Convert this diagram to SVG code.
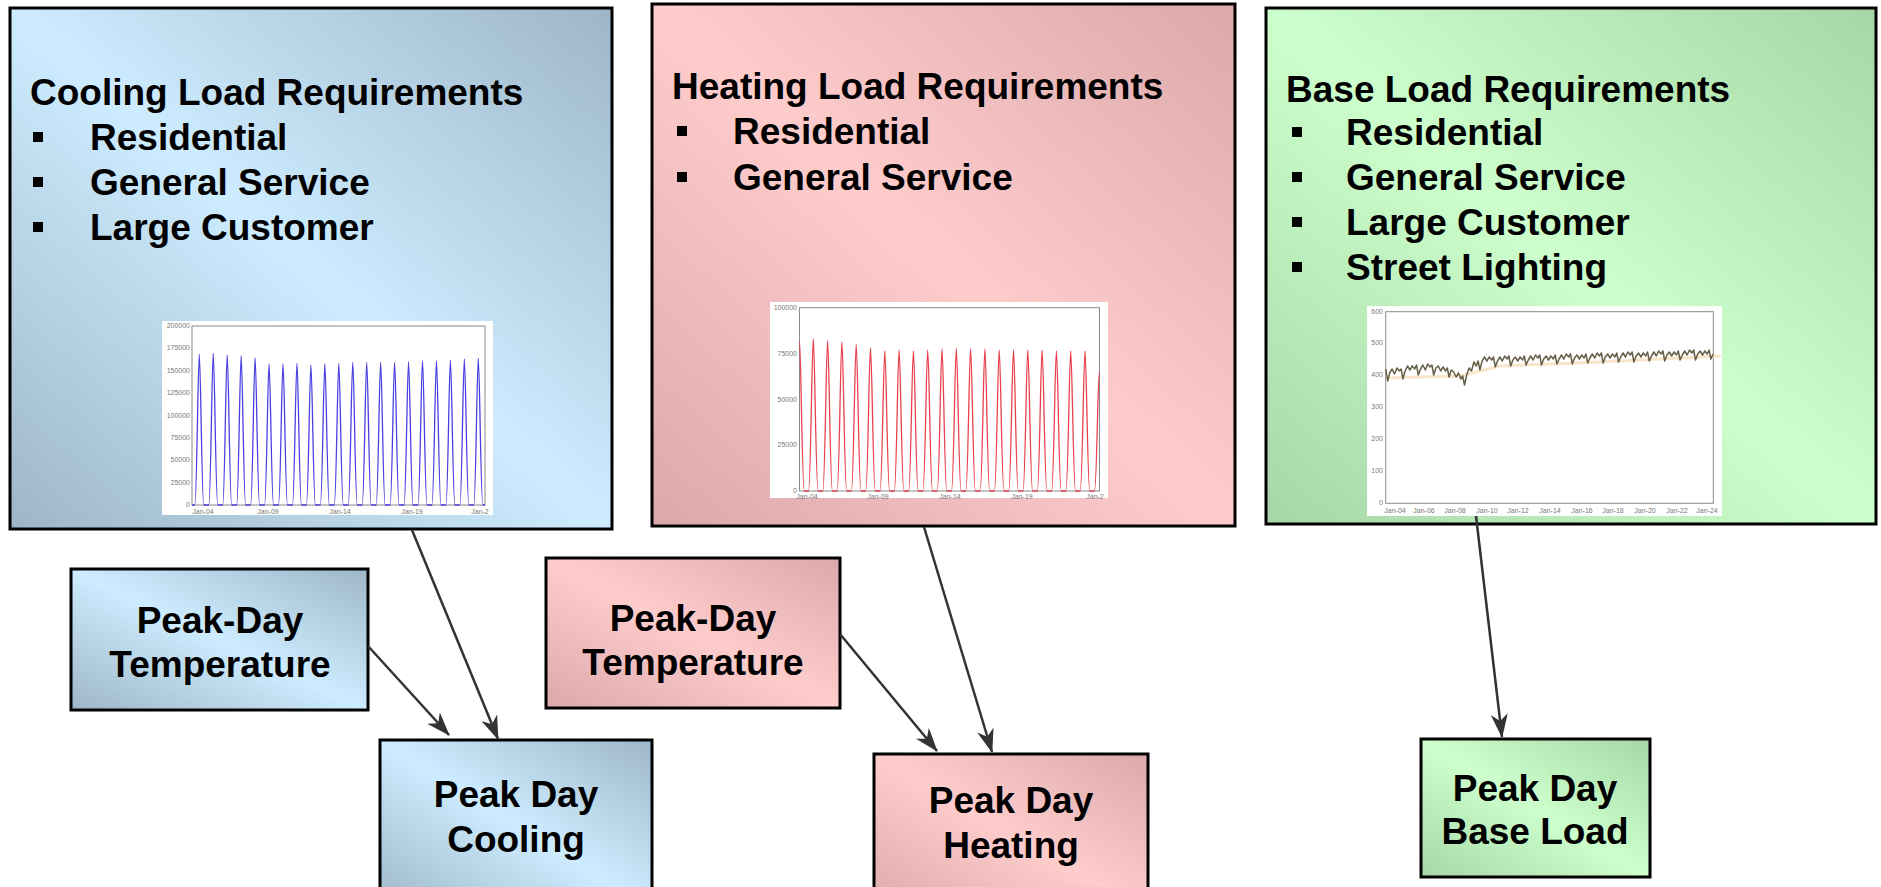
<svg xmlns="http://www.w3.org/2000/svg" width="1881" height="887" viewBox="0 0 1881 887">
<defs>
<linearGradient id="gBlue" x1="1" y1="0" x2="0" y2="1"><stop offset="0" stop-color="#9db6c7"/><stop offset="0.5" stop-color="#cdecff"/><stop offset="1" stop-color="#9db6c7"/></linearGradient>
<linearGradient id="gRed" x1="1" y1="0" x2="0" y2="1"><stop offset="0" stop-color="#dba9ab"/><stop offset="0.5" stop-color="#ffcccc"/><stop offset="1" stop-color="#dba9ab"/></linearGradient>
<linearGradient id="gGreen" x1="1" y1="0" x2="0" y2="1"><stop offset="0" stop-color="#a6d6a6"/><stop offset="0.5" stop-color="#ccffcc"/><stop offset="1" stop-color="#a6d6a6"/></linearGradient>
<marker id="arr" viewBox="0 0 24 17" refX="23" refY="8.5" markerWidth="24" markerHeight="17" markerUnits="userSpaceOnUse" orient="auto"><path d="M0,0 L24,8.5 L0,17 L7,8.5 Z" fill="#333"/></marker>
<style>
.box{stroke:#000;stroke-width:3}
.t{font-family:"Liberation Sans",Arial,sans-serif;font-weight:bold;font-size:37px;fill:#000}
.c{text-anchor:middle}
.b{fill:#000}
.chart{fill:#fff}
.frame{fill:none;stroke:#8a8a8a;stroke-width:1}
.tk{font-family:"Liberation Sans",Arial,sans-serif;font-size:7px;fill:#777}
.ya{text-anchor:end}
.xa{text-anchor:middle}
.conn{stroke:#333;stroke-width:2.5;fill:none;marker-end:url(#arr)}
</style>
</defs>
<rect width="1881" height="887" fill="#fff"/>

<g id="cooling-requirements">
<rect class="box" x="10" y="8" width="602" height="521" fill="url(#gBlue)"/>
<text class="t" x="30" y="105">Cooling Load Requirements</text>
<rect class="b" x="33" y="132" width="10" height="10"/><text class="t" x="90" y="150">Residential</text>
<rect class="b" x="33" y="177" width="10" height="10"/><text class="t" x="90" y="195">General Service</text>
<rect class="b" x="33" y="222" width="10" height="10"/><text class="t" x="90" y="240">Large Customer</text>
<rect class="chart" x="162" y="321" width="331" height="194"/>
<rect class="frame" x="192" y="326" width="293" height="179"/>
<g class="tk ya">
<text x="190" y="328">200000</text><text x="190" y="350">175000</text><text x="190" y="373">150000</text><text x="190" y="395">125000</text><text x="190" y="418">100000</text><text x="190" y="440">75000</text><text x="190" y="462">50000</text><text x="190" y="485">25000</text><text x="190" y="507">0</text>
</g>
<g class="tk xa">
<text x="203" y="514">Jan-04</text><text x="268" y="514">Jan-09</text><text x="340" y="514">Jan-14</text><text x="412" y="514">Jan-19</text><text x="480" y="514">Jan-2</text>
</g>
<path fill="none" stroke="#4a3fe0" stroke-width="1.3" d="M192,505 h2.8
c2,0 3.2,-150.7 4.5,-150.7 c1.3,0 2.5,150.7 4.5,150.7 h4.95
c2,0 3.2,-151.7 4.5,-151.7 c1.3,0 2.5,151.7 4.5,151.7 h4.95
c2,0 3.2,-150 4.5,-150 c1.3,0 2.5,150 4.5,150 h4.95
c2,0 3.2,-149.3 4.5,-149.3 c1.3,0 2.5,149.3 4.5,149.3 h4.95
c2,0 3.2,-147.3 4.5,-147.3 c1.3,0 2.5,147.3 4.5,147.3 h4.95
c2,0 3.2,-141 4.5,-141 c1.3,0 2.5,141 4.5,141 h4.95
c2,0 3.2,-141 4.5,-141 c1.3,0 2.5,141 4.5,141 h4.95
c2,0 3.2,-141.7 4.5,-141.7 c1.3,0 2.5,141.7 4.5,141.7 h4.95
c2,0 3.2,-140 4.5,-140 c1.3,0 2.5,140 4.5,140 h4.95
c2,0 3.2,-141 4.5,-141 c1.3,0 2.5,141 4.5,141 h4.95
c2,0 3.2,-141.7 4.5,-141.7 c1.3,0 2.5,141.7 4.5,141.7 h4.95
c2,0 3.2,-142.7 4.5,-142.7 c1.3,0 2.5,142.7 4.5,142.7 h4.95
c2,0 3.2,-142.7 4.5,-142.7 c1.3,0 2.5,142.7 4.5,142.7 h4.95
c2,0 3.2,-142.7 4.5,-142.7 c1.3,0 2.5,142.7 4.5,142.7 h4.95
c2,0 3.2,-142.7 4.5,-142.7 c1.3,0 2.5,142.7 4.5,142.7 h4.95
c2,0 3.2,-143.3 4.5,-143.3 c1.3,0 2.5,143.3 4.5,143.3 h4.95
c2,0 3.2,-144.3 4.5,-144.3 c1.3,0 2.5,144.3 4.5,144.3 h4.95
c2,0 3.2,-144.3 4.5,-144.3 c1.3,0 2.5,144.3 4.5,144.3 h4.95
c2,0 3.2,-145 4.5,-145 c1.3,0 2.5,145 4.5,145 h4.95
c2,0 3.2,-146 4.5,-146 c1.3,0 2.5,146 4.5,146 h4.95
c2,0 3.2,-146.7 4.5,-146.7 c1.3,0 2.5,146.7 4.5,146.7 h2.2"/>
</g>

<g id="heating-requirements">
<rect class="box" x="652" y="4" width="583" height="522" fill="url(#gRed)"/>
<text class="t" x="672" y="99">Heating Load Requirements</text>
<rect class="b" x="677" y="126" width="10" height="10"/><text class="t" x="733" y="144">Residential</text>
<rect class="b" x="677" y="172" width="10" height="10"/><text class="t" x="733" y="190">General Service</text>
<rect class="chart" x="770" y="302" width="338" height="196"/>
<rect class="frame" x="799.5" y="307.7" width="300" height="183.3"/>
<g class="tk ya">
<text x="797" y="310">100000</text><text x="797" y="356">75000</text><text x="797" y="402">50000</text><text x="797" y="447">25000</text><text x="797" y="493">0</text>
</g>
<g class="tk xa">
<text x="807" y="499">Jan-04</text><text x="878" y="499">Jan-09</text><text x="950" y="499">Jan-14</text><text x="1022" y="499">Jan-19</text><text x="1095" y="499">Jan-2</text>
</g>
<path fill="none" stroke="#e8404c" stroke-width="1.3" d="M799.5,341 c1.4,0 2.6,150 4.8,150 h4.2
c2.2,0 3.4,-152 4.8,-152 c1.4,0 2.6,152 4.8,152 h4.7
c2.2,0 3.4,-150.3 4.8,-150.3 c1.4,0 2.6,150.3 4.8,150.3 h4.7
c2.2,0 3.4,-149.3 4.8,-149.3 c1.4,0 2.6,149.3 4.8,149.3 h4.7
c2.2,0 3.4,-146.7 4.8,-146.7 c1.4,0 2.6,146.7 4.8,146.7 h4.7
c2.2,0 3.4,-143.3 4.8,-143.3 c1.4,0 2.6,143.3 4.8,143.3 h4.7
c2.2,0 3.4,-140 4.8,-140 c1.4,0 2.6,140 4.8,140 h4.7
c2.2,0 3.4,-141 4.8,-141 c1.4,0 2.6,141 4.8,141 h4.7
c2.2,0 3.4,-140 4.8,-140 c1.4,0 2.6,140 4.8,140 h4.7
c2.2,0 3.4,-141 4.8,-141 c1.4,0 2.6,141 4.8,141 h4.7
c2.2,0 3.4,-142 4.8,-142 c1.4,0 2.6,142 4.8,142 h4.7
c2.2,0 3.4,-142.7 4.8,-142.7 c1.4,0 2.6,142.7 4.8,142.7 h4.7
c2.2,0 3.4,-142 4.8,-142 c1.4,0 2.6,142 4.8,142 h4.7
c2.2,0 3.4,-142 4.8,-142 c1.4,0 2.6,142 4.8,142 h4.7
c2.2,0 3.4,-141 4.8,-141 c1.4,0 2.6,141 4.8,141 h4.7
c2.2,0 3.4,-141 4.8,-141 c1.4,0 2.6,141 4.8,141 h4.7
c2.2,0 3.4,-141 4.8,-141 c1.4,0 2.6,141 4.8,141 h4.7
c2.2,0 3.4,-141 4.8,-141 c1.4,0 2.6,141 4.8,141 h4.7
c2.2,0 3.4,-140 4.8,-140 c1.4,0 2.6,140 4.8,140 h4.7
c2.2,0 3.4,-140 4.8,-140 c1.4,0 2.6,140 4.8,140 h4.7
c2.2,0 3.4,-140 4.8,-140 c1.4,0 2.6,140 4.8,140 h4.7
c2.2,0 3.4,-119 4.8,-119"/>
</g>

<g id="base-requirements">
<rect class="box" x="1266" y="8" width="610" height="516" fill="url(#gGreen)"/>
<text class="t" x="1286" y="102">Base Load Requirements</text>
<rect class="b" x="1292" y="127" width="10" height="10"/><text class="t" x="1346" y="145">Residential</text>
<rect class="b" x="1292" y="172" width="10" height="10"/><text class="t" x="1346" y="190">General Service</text>
<rect class="b" x="1292" y="217" width="10" height="10"/><text class="t" x="1346" y="235">Large Customer</text>
<rect class="b" x="1292" y="262" width="10" height="10"/><text class="t" x="1346" y="280">Street Lighting</text>
<rect class="chart" x="1367" y="306" width="355" height="210"/>
<rect class="frame" x="1385.7" y="311.7" width="327.6" height="191.6"/>
<g class="tk ya">
<text x="1383" y="314">600</text><text x="1383" y="345">500</text><text x="1383" y="377">400</text><text x="1383" y="409">300</text><text x="1383" y="441">200</text><text x="1383" y="473">100</text><text x="1383" y="505">0</text>
</g>
<g class="tk xa">
<text x="1395" y="513">Jan-04</text><text x="1424" y="513">Jan-06</text><text x="1455" y="513">Jan-08</text><text x="1487" y="513">Jan-10</text><text x="1518" y="513">Jan-12</text><text x="1550" y="513">Jan-14</text><text x="1582" y="513">Jan-16</text><text x="1613" y="513">Jan-18</text><text x="1645" y="513">Jan-20</text><text x="1677" y="513">Jan-22</text><text x="1707" y="513">Jan-24</text>
</g>
<path fill="none" stroke="#f6dcb4" stroke-width="3" opacity="0.7" d="M1386,378 L1460,376 L1500,366 L1600,362 L1721,356"/>
<path fill="none" stroke="#665f48" stroke-width="1.5" stroke-linejoin="round" d="M1385.7,369 l2,12 l2,-8
l2.4,-4 l2.4,5 l2.4,-6 l2.4,3 l1.8,-2 l1.8,10 l2.2,-8
l2.4,-5 l2.4,4 l2.4,-4 l2.4,3 l1.8,-4 l1.8,10 l2.2,-6
l2.4,-4 l2.4,5 l2.4,-6 l2.4,3 l1.8,-2 l1.8,10 l2.2,-7
l2.4,-2 l2.4,5 l2.4,-4 l2.4,4 l1.8,-3 l1.8,9 l2.2,-7
l2.4,2 l2.4,5 l2.4,-4 l2.4,6 l1.8,-3 l1.8,9 l2.2,-10
l2.4,-7 l2.4,3 l2.4,-9 l2.4,4 l1.8,-5 l1.8,9 l2.2,-9
l2.4,-4 l2.4,4 l2.4,-4 l2.4,3 l1.8,-3 l1.8,10 l2.2,-6
l2.4,-4 l2.4,4 l2.4,-5 l2.4,3 l1.8,-3 l1.8,10 l2.2,-6
l2.4,-3 l2.4,4 l2.4,-4 l2.4,3 l1.8,-4 l1.8,9 l2.2,-5
l2.4,-4 l2.4,4 l2.4,-5 l2.4,3 l1.8,-3 l1.8,10 l2.2,-6
l2.4,-3 l2.4,4 l2.4,-4 l2.4,3 l1.8,-4 l1.8,9 l2.2,-5
l2.4,-4 l2.4,4 l2.4,-5 l2.4,3 l1.8,-3 l1.8,10 l2.2,-6
l2.4,-3 l2.4,4 l2.4,-4 l2.4,3 l1.8,-4 l1.8,9 l2.2,-5
l2.4,-4 l2.4,4 l2.4,-5 l2.4,3 l1.8,-3 l1.8,10 l2.2,-6
l2.4,-3 l2.4,4 l2.4,-4 l2.4,3 l1.8,-4 l1.8,9 l2.2,-5
l2.4,-4 l2.4,4 l2.4,-5 l2.4,3 l1.8,-3 l1.8,10 l2.2,-6
l2.4,-3 l2.4,4 l2.4,-4 l2.4,3 l1.8,-4 l1.8,9 l2.2,-5
l2.4,-4 l2.4,4 l2.4,-5 l2.4,3 l1.8,-3 l1.8,10 l2.2,-6
l2.4,-3 l2.4,4 l2.4,-4 l2.4,3 l1.8,-4 l1.8,9 l2.2,-5
l2.4,-4 l2.4,4 l2.4,-5 l2.4,3 l1.8,-3 l1.8,10 l2.2,-6
l2.4,-3 l2.4,4 l2.4,-4 l2.4,3 l1.8,-4 l1.8,9 l2.2,-5"/>
</g>

<g id="cooling-temperature">
<rect class="box" x="71" y="569" width="297" height="141" fill="url(#gBlue)"/>
<text class="t c" x="220" y="633">Peak-Day</text>
<text class="t c" x="220" y="677">Temperature</text>
</g>
<g id="peak-day-cooling">
<rect class="box" x="380" y="740" width="272" height="170" fill="url(#gBlue)"/>
<text class="t c" x="516" y="807">Peak Day</text>
<text class="t c" x="516" y="852">Cooling</text>
</g>
<g id="heating-temperature">
<rect class="box" x="546" y="558" width="294" height="150" fill="url(#gRed)"/>
<text class="t c" x="693" y="631">Peak-Day</text>
<text class="t c" x="693" y="675">Temperature</text>
</g>
<g id="peak-day-heating">
<rect class="box" x="874" y="754" width="274" height="160" fill="url(#gRed)"/>
<text class="t c" x="1011" y="813">Peak Day</text>
<text class="t c" x="1011" y="858">Heating</text>
</g>
<g id="peak-day-base">
<rect class="box" x="1421" y="739" width="229" height="138" fill="url(#gGreen)"/>
<text class="t c" x="1535" y="801">Peak Day</text>
<text class="t c" x="1535" y="844">Base Load</text>
</g>

<g id="connectors">
<line class="conn" x1="412" y1="530" x2="498" y2="739"/>
<line class="conn" x1="368" y1="646" x2="449" y2="735"/>
<line class="conn" x1="924" y1="527" x2="992" y2="752"/>
<line class="conn" x1="840" y1="634" x2="937" y2="751"/>
<line class="conn" x1="1476" y1="516" x2="1502" y2="737"/>
</g>
</svg>
